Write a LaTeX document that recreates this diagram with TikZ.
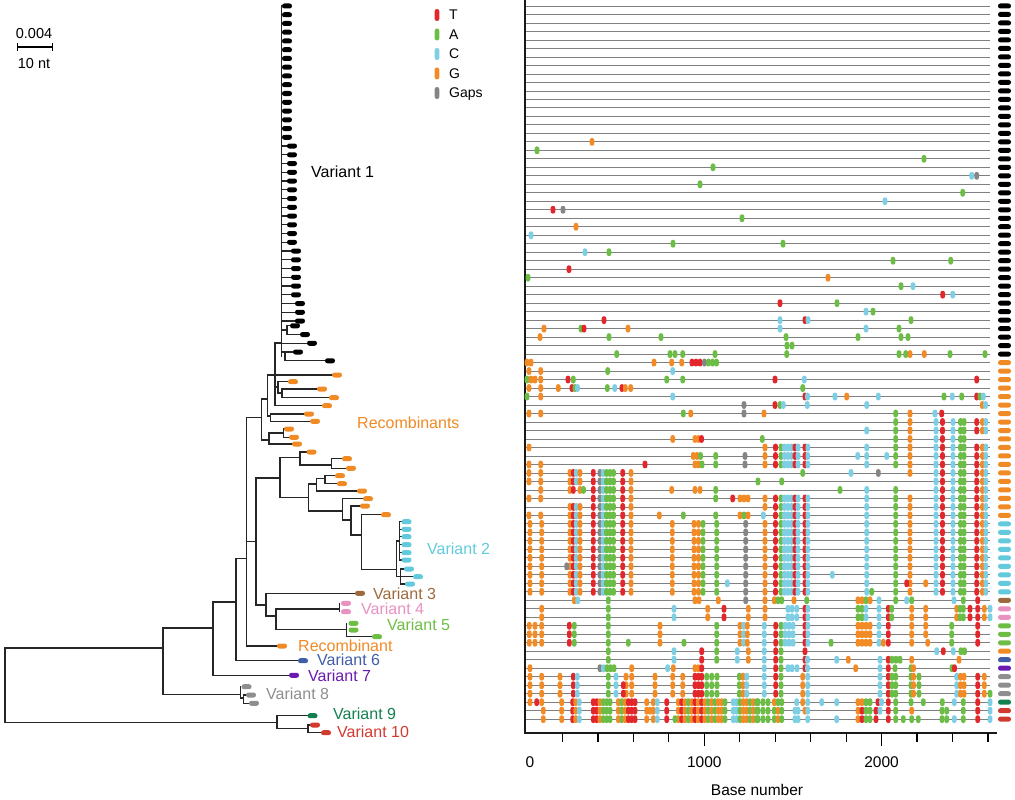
\documentclass[tikz,border=0pt]{standalone}
\usepackage{fontspec}
\setmainfont{Liberation Sans}
\definecolor{cT}{HTML}{E2262C}
\definecolor{cA}{HTML}{6CBD45}
\definecolor{cC}{HTML}{7ECEE4}
\definecolor{cG}{HTML}{F28A26}
\definecolor{cN}{HTML}{858585}
\definecolor{vK}{HTML}{000000}
\definecolor{vOr}{HTML}{F08A24}
\definecolor{vCy}{HTML}{62CADC}
\definecolor{vBr}{HTML}{9C6A3C}
\definecolor{vPk}{HTML}{E891C2}
\definecolor{vGr}{HTML}{6DBE45}
\definecolor{vBl}{HTML}{3F5DA8}
\definecolor{vPu}{HTML}{6A1AB1}
\definecolor{vGy}{HTML}{8E8E8E}
\definecolor{vDg}{HTML}{13804F}
\definecolor{vRd}{HTML}{D33A2F}
% tree helpers (pixel units, y downwards)
\newcommand\tv[3]{\draw[tree] (#1,#2) -- (#1,#3);}
\newcommand\tw[3]{\draw[tree] (#1,#3) -- (#2,#3);}
\newcommand\lf[3]{\fill[#3,rounded corners=2.4pt] ({#1-5},{#2-2.5}) rectangle ({#1+5},{#2+2.5});}
\newcommand\R[2]{\edef\rowlist{#2}\foreach \xx/\cc in \rowlist {\fill[fill=c\cc,rounded corners=2.2pt] ({\xx-2.3},{6+8.49*(#1-1)-3.9}) rectangle ({\xx+2.3},{6+8.49*(#1-1)+3.9});}}
\newcommand\rmk[2]{\fill[#2,rounded corners=2.4pt] (998,{6+8.49*(#1-1)-2.5}) rectangle (1011,{6+8.49*(#1-1)+2.5});}
% alignment patterns
\def\LtwoCore{570/G,573.3/T,576.3/C,580/G,593.3/T,600/N,603.2/C,606.5/A,610/A,613.5/A,622.7/T,631/G}
\def\Ltwo{530/G,541.7/G,\LtwoCore,672.3/G,694/G,698.5/G,703/A,716.7/A,745.7/N}
\def\Rclu{781/A,784.5/C,788/C,791.5/C,795/T,798/C}
\def\Rtail{936/C,942.5/T,953/C,960.5/A,964/A,976.7/T,982.5/G,985.8/C}
\def\Rtwo{765/G,775.5/T,\Rclu,805/T,807.8/C,866.7/C,895.7/A,910/G,\Rtail}
\def\Lpk{541.7/G,608.3/A,674/C,707.7/G,724/T,748.3/G}
\def\Rpk{765/G,788/C,792/C,796.7/C,805/T,807.8/C,858/A,862/A,866/C,879/C,888.3/T,891.7/A,911.7/G,925.7/G,956.7/G,960/A,963.3/A,970/T,977.7/T,984.3/G,990/C}
\def\Lgr{529.3/G,535/G,541.7/G,569.3/T,574.3/A,608.3/A,660/G,716.7/A,740/G,743.7/C,747.3/G}
\def\Rgr{764.3/C,775.7/T,781/A,785/C,789/C,793/C,805/T,807.8/C,858/G,862/G,866/G,870/G,879/C,888.3/T,911.7/G,951.7/A,977.7/T}
\def\Lgy{530/G,541.7/G,560/G,573.3/T,577.3/C,608.3/A,616/C,626/G,631.7/G,655/G,672.7/G,682.7/G,695/T,698.5/T,701.7/T,706.7/A,711.7/A,717/A,739.3/A,743/G,746.7/C}
\def\Rgy{764.3/C,775.7/T,781/A,802.7/G,807.7/C,880/C,888.3/T,892/A,895.7/A,911/A,913.5/G,919/A,956.7/C,960.5/G,964/G,977.7/T,984.3/G}
\def\Ldense{561.7/G,572.7/T,575.7/G,579.3/C,593.3/T,596.7/T,600/G,603.3/A,606.7/A,610/A,618.3/G,621.7/A,625/G,628.3/T,631.7/T,635/T,646.7/G,653.3/G,657.3/C,666.7/T,678.3/G,681.7/T,685/G,688.3/A,691.7/G,695/T,698.3/G,701.7/T,705/G,708.3/A,711.7/G,715/A,718.3/G,721.7/G,725/A,733.3/C,736.7/C,740/A,743.3/G,746.7/G,750/A,753.3/G,756.7/A}
\begin{document}
\begin{tikzpicture}[x=1pt,y=-1pt,
  tree/.style={line width=1.3pt,draw=black!85,line cap=rect},
  rowline/.style={line width=0.8pt,draw=black!50},
  axisline/.style={line width=1.4pt,draw=black!90},
  lab/.style={font=\fontsize{16}{19}\selectfont,inner sep=0pt,anchor=base west},
  leg/.style={font=\fontsize{14}{17}\selectfont,inner sep=0pt,anchor=base west},
  axlab/.style={font=\fontsize{15.5}{18}\selectfont,inner sep=0pt,anchor=base}]
\useasboundingbox (0,0) rectangle (1015,800);

% ---------- scale bar ----------
\node[font=\fontsize{14.5}{17}\selectfont,inner sep=0pt,anchor=base] (sclab) at (34,38.2) {0.004};
\coordinate (sbl) at (17,47); \coordinate (sbr) at (52,47);
\draw[line width=1.2pt] (sbl) -- (sbr);
\draw[line width=1pt] ([yshift=-4pt]sbl) -- ([yshift=4pt]sbl);
\draw[line width=1pt] ([yshift=-4pt]sbr) -- ([yshift=4pt]sbr);
\node[font=\fontsize{14.5}{17}\selectfont,inner sep=0pt,anchor=base] (scnt) at (34,68.2) {10 nt};

% ---------- legend ----------
\foreach \yy/\cl/\tx/\nm in {15/cT/T/lT,34.5/cA/A/lA,54/cC/C/lC,73.5/cG/G/lG,93/cN/Gaps/lN}{
  \fill[\cl,rounded corners=2.2pt] (434.7,{\yy-6}) rectangle (439.3,{\yy+6});
  \node[leg] (\nm) at (449,{\yy+5}) {\tx};
}

% ---------- tree: Variant 1 ----------
\tv{281.5}{6}{356}
\foreach \i in {1,...,16}{\lf{287}{6+8.75*(\i-1)}{vK}}
\foreach \i in {17,...,28}{\draw[tree] (281.5,{6+8.75*(\i-1)}) -- (287,{6+8.75*(\i-1)}); \lf{292}{6+8.75*(\i-1)}{vK}}
\foreach \i in {29,...,34}{\draw[tree] (281.5,{6+8.75*(\i-1)}) -- (291,{6+8.75*(\i-1)}); \lf{296}{6+8.75*(\i-1)}{vK}}
\foreach \i in {35,...,37}{\draw[tree] (281.5,{6+8.75*(\i-1)}) -- (295,{6+8.75*(\i-1)}); \lf{300}{6+8.75*(\i-1)}{vK}}
\tw{281.5}{287}{330.1}\tv{287}{325.75}{334.5}
\tw{287}{290}{325.75}\lf{295}{325.75}{vK}
\tw{287}{300}{334.5}\lf{305}{334.5}{vK}
\tw{281.5}{307}{343.25}\lf{312}{343.25}{vK}
\tw{281.5}{285}{352}\tv{285}{352}{360.75}
\tw{285}{293}{352}\lf{298}{352}{vK}
\tw{285}{325}{360.75}\lf{330}{360.75}{vK}

% ---------- tree: recombinants ----------
\tv{275}{343}{405.7}
\tw{275}{281.5}{343}
\tw{275}{332}{375}\lf{337}{375}{vOr}
\tw{275}{278}{387}
\tw{275}{322}{405.7}\lf{327}{405.7}{vOr}
\tv{278}{381.7}{393}
\tw{278}{288}{381.7}\lf{293}{381.7}{vOr}
\tw{278}{282}{393}\tv{282}{389}{397.7}
\tw{282}{317}{389}\lf{322}{389}{vOr}
\tw{282}{329}{397.7}\lf{334}{397.7}{vOr}
\tv{267.3}{375}{416}
\tw{267.3}{275}{375}
\tw{267.3}{270.7}{416}\tv{270.7}{414}{421.3}
\tw{270.7}{304}{414}\lf{309}{414}{vOr}
\tw{270.7}{310}{421.3}\lf{315}{421.3}{vOr}
\tv{261.7}{399}{440}
\tw{261.7}{267.3}{399}
\tw{261.7}{269}{440}
\tv{269}{433}{444}
\tw{269}{283.3}{433}\tv{283.3}{429}{437.3}
\tw{283.3}{284}{429}\lf{289}{429}{vOr}
\tw{283.3}{289}{437.3}\lf{294}{437.3}{vOr}
\tw{269}{292}{444}\lf{297}{444}{vOr}
\tv{246.7}{417.7}{646}
\tw{246.7}{261.7}{417.7}
\tw{246.7}{256}{541.7}
\tw{246.7}{277}{646}\lf{282}{646}{vOr}
\tv{256}{478}{605}
\tw{256}{280}{478}
\tw{256}{266}{605}
\tv{280}{457.3}{497.3}
\tw{280}{300}{457.3}\tw{280}{308.3}{497.3}
\tv{300}{452}{465}
\tw{300}{306.5}{452}\lf{311.5}{452}{vOr}
\tw{300}{331.7}{465}\tv{331.7}{458.7}{468.3}
\tw{331.7}{342}{458.7}\lf{347}{458.7}{vOr}
\tw{331.7}{346}{468.3}\lf{351}{468.3}{vOr}
\tv{308.3}{484}{511}
\tw{308.3}{316.7}{484}\tw{308.3}{342.3}{511}
\tv{316.7}{478.3}{491}
\tw{316.7}{325}{478.3}\tv{325}{475.7}{483.7}
\tw{325}{335}{475.7}\lf{340}{475.7}{vOr}
\tw{325}{337}{483.7}\lf{342}{483.7}{vOr}
\tw{316.7}{357}{491}\lf{362}{491}{vOr}
\tv{342.3}{498.7}{520}
\tw{342.3}{363}{498.7}\lf{368}{498.7}{vOr}
\tw{342.3}{351}{520}
\tv{351}{506}{535}
\tw{351}{360}{506}\lf{365}{506}{vOr}
\tw{351}{361.7}{535}
\tv{361.7}{514.7}{569.3}
\tw{361.7}{381}{514.7}\lf{386}{514.7}{vOr}
\tw{361.7}{396.7}{569.3}
% Variant 2
\tv{396.7}{541}{576.7}
\tw{396.7}{399.3}{541}\tw{396.7}{400.5}{576.7}
\tv{399.3}{521.7}{560}
\foreach \yy in {521.7,529.3,536.7,544.7,552.7,560}{\tw{399.3}{401.5}{\yy}\lf{406.5}{\yy}{vCy}}
\tv{400.5}{569}{584}
\tw{400.5}{404}{569}\lf{409}{569}{vCy}
\tw{400.5}{413}{576.7}\lf{418}{576.7}{vCy}
\tw{400.5}{405}{584}\lf{410}{584}{vCy}
% Variants 3-5
\tv{266}{593.3}{616}
\tw{266}{355}{593.3}\lf{360}{593.3}{vBr}
\tw{266}{276}{616}
\tv{276}{609}{629.3}
\tw{276}{339.3}{609}\tv{339.3}{603.3}{611.7}
\lf{346}{603.3}{vPk}\lf{346}{611.7}{vPk}
\tw{276}{346.7}{629.3}\tv{346.7}{623.3}{636.7}
\lf{353.5}{623.3}{vGr}\lf{353.5}{630}{vGr}
\tw{346.7}{372}{636.7}\lf{377}{636.7}{vGr}
% Variants 6-8, root
\tv{236}{558.3}{660.7}
\tw{236}{246.7}{558.3}
\tw{236}{298}{660.7}\lf{303}{660.7}{vBl}
\tv{213}{602}{675.3}
\tw{213}{236}{602}
\tw{213}{289}{675.3}\lf{294}{675.3}{vPu}
\tv{163}{628}{694.3}
\tw{163}{213}{628}
\tw{163}{240.7}{694.3}
\tv{240.7}{686.7}{698}
\lf{246.5}{686.7}{vGy}
\tw{240.7}{243.3}{698}\tv{243.3}{695}{703.3}
\tw{243.3}{246}{695}\lf{251}{695}{vGy}
\tw{243.3}{249}{703.3}\lf{254}{703.3}{vGy}
\tv{5}{648}{722.7}
\tw{5}{163}{648}
\tw{5}{277}{722.7}
\tv{277}{715.7}{728.3}
\tw{277}{307.5}{715.7}\lf{312.5}{715.7}{vDg}
\tw{277}{308}{728.3}\tv{308}{725}{732.7}
\tw{308}{310}{725}\lf{315}{725}{vRd}
\tw{308}{321}{732.7}\lf{326}{732.7}{vRd}

% tree labels
\node[lab,text=vK]  (lv1)  at (311,177.7) {Variant 1};
\node[lab,text=vOr] (lrec) at (357,428.7) {Recombinants};
\node[lab,text=vCy] (lv2)  at (427,554.7) {Variant 2};
\node[lab,text=vBr] (lv3)  at (373,599) {Variant 3};
\node[lab,text=vPk] (lv4)  at (361,614) {Variant 4};
\node[lab,text=vGr] (lv5)  at (387,630.7) {Variant 5};
\node[lab,text=vOr] (lrc)  at (298,651.7) {Recombinant};
\node[lab,text=vBl] (lv6)  at (317,665.7) {Variant 6};
\node[lab,text=vPu] (lv7)  at (308,681.7) {Variant 7};
\node[lab,text=vGy] (lv8)  at (266,699.7) {Variant 8};
\node[lab,text=vDg] (lv9)  at (333,719.7) {Variant 9};
\node[lab,text=vRd] (lv10) at (337,737.7) {Variant 10};

% ---------- alignment panel ----------
\foreach \k in {1,...,85}{\draw[rowline] (525,{6+8.49*(\k-1)}) -- (990,{6+8.49*(\k-1)});}
\coordinate (axtop) at (525,0);
\coordinate (axorig) at (525,733);
\coordinate (axend) at (997,733);
\draw[axisline] (axtop) -- (axorig) -- (axend);
\foreach \u in {200,400,600,800,1200,1400,1600,1800,2200,2400,2600}{\draw[line width=1.2pt] ({527+0.1773*\u},733) -- ++(0,9);}
\foreach \u in {1000,2000}{\draw[line width=1.2pt] ({527+0.1773*\u},733) -- ++(0,12.5);}
\node[axlab] (t0) at (530,767) {0};
\node[axlab] (t1) at (704.3,767) {1000};
\node[axlab] (t2) at (881.6,767) {2000};
\node[axlab] (bn) at (757,795.5) {Base number};

% row markers on the right
\foreach \k in {1,...,42}{\rmk{\k}{vK}}
\foreach \k in {43,...,61}{\rmk{\k}{vOr}}
\foreach \k in {62,...,70}{\rmk{\k}{vCy}}
\rmk{71}{vBr}\rmk{72}{vPk}\rmk{73}{vPk}
\rmk{74}{vGr}\rmk{75}{vGr}\rmk{76}{vGr}
\rmk{77}{vOr}\rmk{78}{vBl}\rmk{79}{vPu}
\rmk{80}{vGy}\rmk{81}{vGy}\rmk{82}{vGy}
\rmk{83}{vDg}\rmk{84}{vRd}\rmk{85}{vRd}

% ---------- substitutions ----------
\R{17}{592/G}
\R{18}{537/A}
\R{19}{924/A}
\R{20}{713/A}
\R{21}{971.7/C,976.7/N}
\R{22}{700/A}
\R{23}{962.7/A}
\R{24}{885/C}
\R{25}{553/T,563/N}
\R{26}{742/A}
\R{27}{576/G}
\R{28}{531/C}
\R{29}{673/A,783/A}
\R{30}{585/C,609/A}
\R{31}{893/A,950.7/A}
\R{32}{569/T}
\R{33}{528/A,828/G}
\R{34}{901/A,913/C}
\R{35}{942.7/T,952.7/C}
\R{36}{780/T,837/A}
\R{37}{866/C,873/A}
\R{38}{604/T,780/C,805/T,808/C,911/A}
\R{39}{544/G,581/A,584/T,628/G,780/C,866/C,899/A}
\R{40}{540/G,609/A,661/A,786/A,858/A,901/A,908/A}
\R{41}{787/A,792/A}
\R{42}{616.7/A,670/A,675/A,682.7/A,715/A,786.7/A,899/A,905.7/A,910/G,924.3/G,950/A,985/A}
\R{43}{527/G,531/G,654/G,671.7/G,681.7/G,692/T,696/T,700/T,704.5/N,708.5/A,712.5/A,716.5/A}
\R{44}{529/G,540.7/G,607.7/A,672.7/C}
\R{45}{527/A,531/G,535/G,540.7/G,568/T,573.3/A,666.7/A,682.7/A,775/T,804.3/C,976.7/T}
\R{46}{529/G,540.7/G,558.3/G,572/T,575/A,577.5/C,607.3/A,614.7/C,622/T,625.3/G,630.7/G,802.7/A}
\R{47}{527/A,540.7/G,672.7/C,805/T,807.5/C,835/C,846.7/G,878.3/C,944/A,952.3/C,961.7/A,976.7/T,980/A,983.3/C}
\R{48}{744/N,775/T,780/A,783.3/C,807.3/C,866.7/C,982.3/G,985.5/C}
\R{49}{529/G,540.7/G,683.3/A,690.7/G,744/N,764/G,895.7/A,910/G,935/C,941.7/T}
\R{50}{895.7/A,910/G,\Rtail}
\R{51}{866.7/C,895.7/A,910/G,\Rtail}
\R{52}{672.7/G,695/G,698.5/G,701.5/T,762.3/A,895.7/A,910/G,936/C,942.5/T,953/C,960.5/A,964/A}
\R{53}{529/G,\Rtwo}
\R{54}{693.3/G,697/G,700.5/A,715.7/A,745/N,\Rtwo,857.7/C,886.7/C}
\R{55}{529/G,540.7/G,645/T,695/G,698.5/G,702/A,715.7/A,745/N,\Rtwo}
\R{56}{529/G,540.7/G,\LtwoCore,802.7/A,851/C,878.3/N,910/G,\Rtail}
\R{57}{529/G,540.7/G,\LtwoCore,758/A,781.7/A,\Rtail}
\R{58}{540.7/G,570/G,573.3/T,580/G,583.5/A,593.3/T,600/N,603.2/C,606.5/A,610/A,613.5/A,622.7/T,631/G,671.7/G,695/G,700/G,715.7/A,840/A,866.7/C,895.7/A,\Rtail}
\R{59}{529/G,540.7/G,593.3/T,600/N,603.2/C,606.5/A,610/A,613.5/A,622.7/T,631/G,715.7/A,732.7/T,740/G,744/G,748/G,\Rtwo}
\R{60}{\LtwoCore,\Rtwo}
\R{61}{529/G,540.7/G,\LtwoCore,659.3/G,683.3/A,715.7/A,740/G,744/A,748/G,763.3/C,775.5/T,\Rclu,805/T,807.8/C,866.7/C,895.7/A,910/G,\Rtail}
\foreach \k in {62,63,64,65,66}{\R{\k}{\Ltwo,\Rtwo}}
\R{67}{\Ltwo,566.7/N,\Rtwo}
\R{68}{\Ltwo,\Rtwo,832.3/C}
\R{69}{\Ltwo,727.3/C,\Rtwo,906.7/T,925.7/G}
\R{70}{\Ltwo,\Rtwo,871.7/A}
\R{71}{574.3/G,577.7/C,608.3/A,695/G,699/G,718.3/G,745.7/N,765/G,774.3/G,778/A,781.7/A,794/G,806.7/A,858/G,862/G,866/A,870/G,879/C,895.7/A,906.7/C,911.7/A,954/C,963.3/A,977.7/T}
\R{72}{\Lpk,\Rpk}
\R{73}{\Lpk,\Rpk}
\R{74}{\Lgr,\Rgr,925.7/G}
\R{75}{\Lgr,\Rgr,925.7/G}
\R{76}{\Lgr,628.3/A,684/A,\Rgr,831/A,883.3/G,927.7/G}
\R{77}{608.3/A,674/C,701.7/T,716.7/A,737.3/C,748.3/G,764.3/C,775.7/T,781/A,805/T,936.7/C,943.3/T,953.3/C,961/A,964.5/A}
\R{78}{608.3/A,674/C,701.7/T,716.7/A,737.3/C,748.3/G,764.3/C,775.7/T,781/A,805/T,807.5/C,836.7/C,848.3/G,880/C,888.3/T,892/A,896/A,900/A,911.7/G,959/G}
\R{79}{530/G,600/N,603.5/C,607/A,610.5/A,614/A,631.7/G,667.7/C,673.3/G,695/G,698.5/G,701.7/T,764.3/C,775.7/T,781/A,788/C,792/C,797/C,805/T,807.5/C,855.7/G,880/C,888.3/T,895/A,911/A,913.5/G,952/A,954.5/T}
\R{80}{\Lgy,\Rgy}
\R{81}{\Lgy,623.3/T,\Rgy}
\R{82}{\Lgy,623.3/T,\Rgy,990/A}
\R{83}{530/G,536.7/T,541.7/G,\Ldense,758/A,763/A,768/A,774.3/G,778/A,781.7/A,796.7/C,802.7/G,807.7/C,821.7/C,836.7/C,858/G,862/G,866/A,870/A,878/T,881.5/C,888.3/T,895.7/A,911/A,923.3/A,942.3/A,954.3/C,963.3/A,977.7/T,990/C}
\R{84}{543.3/G,\Ldense,650/G,758/A,763/A,768/A,774.3/A,778/G,781.7/A,795/C,798/C,805/G,807.7/C,858/G,862/T,866/A,870/A,876/T,880/C,888.3/T,895.7/A,911.7/G,942/A,946.7/A,963.3/A,977.7/T,990/C}
\R{85}{543.3/G,\Ldense,675/A,758/A,763/A,768/A,774.3/A,778/G,781.7/A,795/C,798/C,807.7/C,836.7/C,858/G,862/T,866/A,870/A,876/T,888.3/T,895.7/A,903.3/A,911.7/A,918.3/A,942/A,946.7/A,954.3/C,963.3/A,977.7/T,990/C}
\end{tikzpicture}
\end{document}
